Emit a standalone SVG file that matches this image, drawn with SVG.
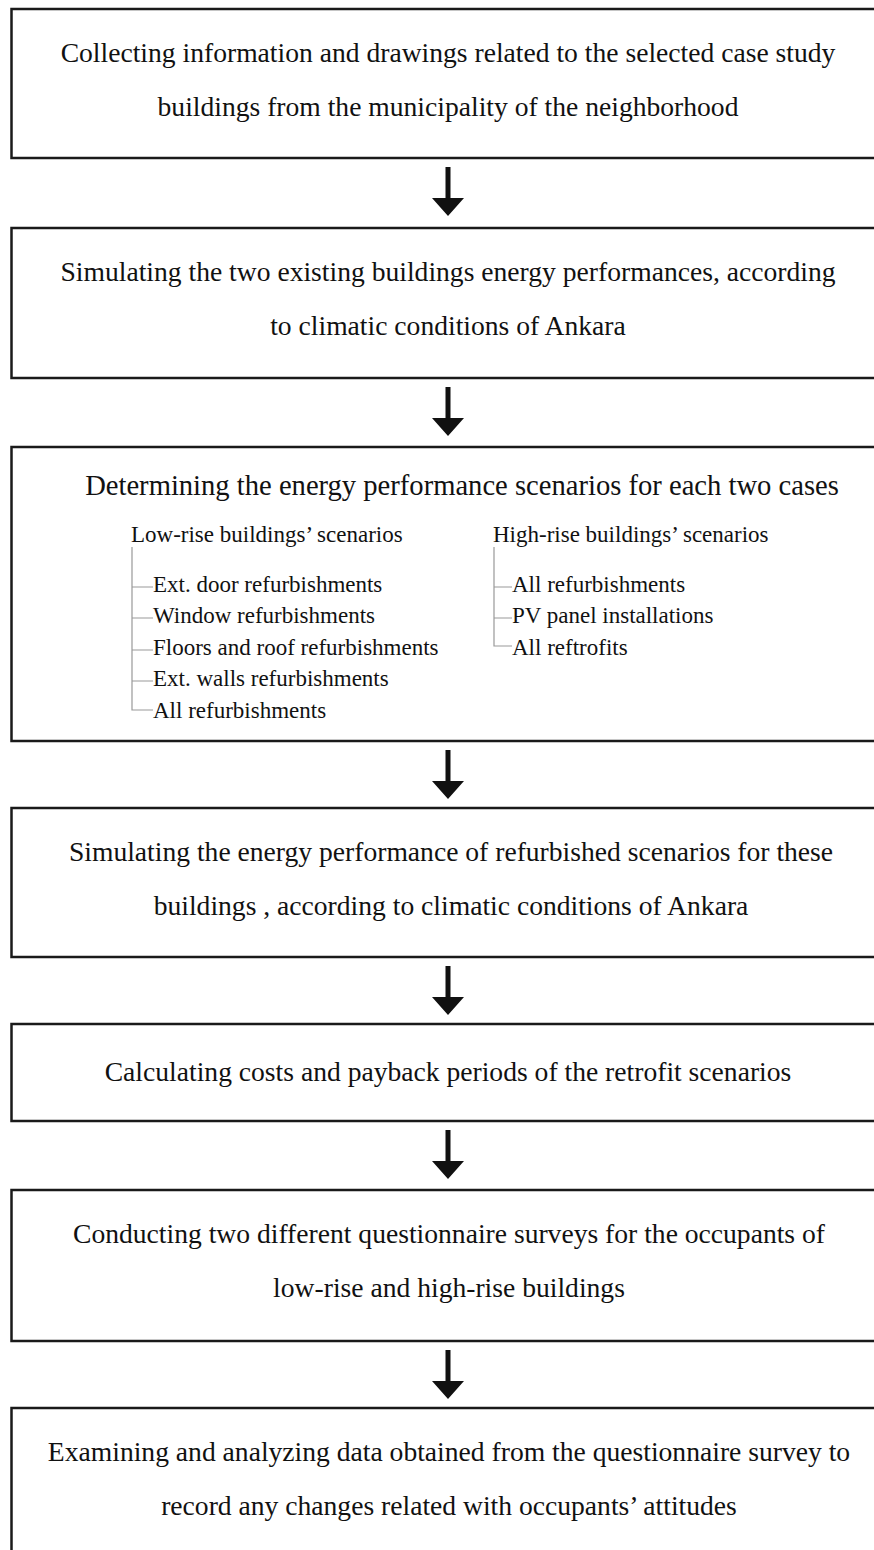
<svg xmlns="http://www.w3.org/2000/svg" width="874" height="1550" viewBox="0 0 874 1550">
<style>
.box{fill:#fff;stroke:#1a1a1a;stroke-width:2.5}
.t{font-family:"Liberation Serif","Times New Roman",serif;font-size:27.6px;fill:#111;text-anchor:middle}
.h{font-size:28.6px}
.s{font-family:"Liberation Serif","Times New Roman",serif;font-size:23px;fill:#111}
.tree{fill:none;stroke:#999;stroke-width:1.2}
.arr{fill:#111}
</style>
<defs>
<path id="arrow" d="M-2.5,0 H2.5 V31 H16 L0,49 L-16,31 H-2.5 Z"/>
</defs>
<rect width="874" height="1550" fill="#fff"/>
<g id="n1">
<rect class="box" x="11.5" y="9" width="900" height="149"/>
<text class="t" x="448" y="62">Collecting information and drawings related to the selected case study</text>
<text class="t" x="448" y="116">buildings from the municipality of the neighborhood</text>
</g>
<g id="n2">
<rect class="box" x="11.5" y="228" width="900" height="150"/>
<text class="t" x="448" y="281">Simulating the two existing buildings energy performances, according</text>
<text class="t" x="448" y="335">to climatic conditions of Ankara</text>
</g>
<g id="n3">
<rect class="box" x="11.5" y="447" width="900" height="294"/>
<text class="t h" x="462" y="495">Determining the energy performance scenarios for each two cases</text>
<text class="s" x="131" y="542">Low-rise buildings’ scenarios</text>
<path class="tree" d="M132,547 V710 H153 M132,587 H153 M132,618 H153 M132,650 H153 M132,681 H153"/>
<text class="s" x="153" y="592">Ext. door refurbishments</text>
<text class="s" x="153" y="623">Window refurbishments</text>
<text class="s" x="153" y="655">Floors and roof refurbishments</text>
<text class="s" x="153" y="686">Ext. walls refurbishments</text>
<text class="s" x="153" y="718">All refurbishments</text>
<text class="s" x="493" y="542">High-rise buildings’ scenarios</text>
<path class="tree" d="M494,547 V646 H512 M494,587 H512 M494,618 H512"/>
<text class="s" x="512" y="592">All refurbishments</text>
<text class="s" x="512" y="623">PV panel installations</text>
<text class="s" x="512" y="655">All reftrofits</text>
</g>
<g id="n4">
<rect class="box" x="11.5" y="808" width="900" height="149"/>
<text class="t" x="451" y="861">Simulating the energy performance of refurbished scenarios for these</text>
<text class="t" x="451" y="915">buildings , according to climatic conditions of Ankara</text>
</g>
<g id="n5">
<rect class="box" x="11.5" y="1024" width="900" height="97"/>
<text class="t" x="448" y="1081">Calculating costs and payback periods of the retrofit scenarios</text>
</g>
<g id="n6">
<rect class="box" x="11.5" y="1190" width="900" height="151"/>
<text class="t" x="449" y="1243">Conducting two different questionnaire surveys for the occupants of</text>
<text class="t" x="449" y="1297">low-rise and high-rise buildings</text>
</g>
<g id="n7">
<rect class="box" x="11.5" y="1408" width="900" height="200"/>
<text class="t" x="449" y="1461">Examining and analyzing data obtained from the questionnaire survey to</text>
<text class="t" x="449" y="1515">record any changes related with occupants’ attitudes</text>
</g>
<g id="connectors">
<use href="#arrow" class="arr" x="448" y="167"/>
<use href="#arrow" class="arr" x="448" y="387"/>
<use href="#arrow" class="arr" x="448" y="750"/>
<use href="#arrow" class="arr" x="448" y="966"/>
<use href="#arrow" class="arr" x="448" y="1130"/>
<use href="#arrow" class="arr" x="448" y="1350"/>
</g>
</svg>
